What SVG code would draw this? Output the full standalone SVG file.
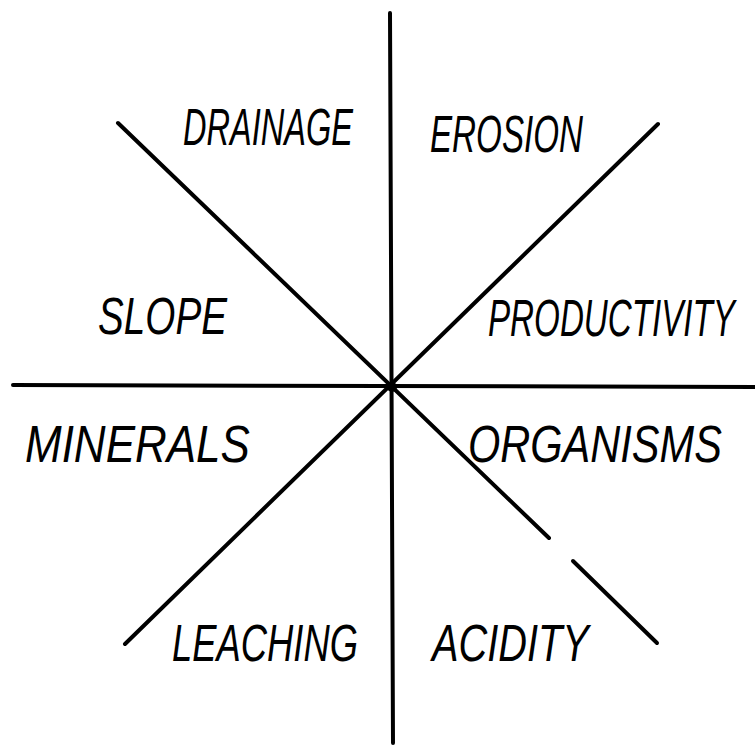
<svg xmlns="http://www.w3.org/2000/svg" width="755" height="747" viewBox="0 0 755 747">
  <style>
    .axis { stroke: #000; stroke-width: 4; stroke-linecap: round; fill: none; }
    .label { font-family: "Liberation Sans", Arial, sans-serif; font-style: italic; font-size: 52px; fill: #000; }
  </style>
  <rect width="755" height="747" fill="#fff"/>

  <!-- eight-way wheel of axes -->
  <g id="connectors">
    <line class="axis" x1="390" y1="13" x2="393" y2="743"/>
    <line class="axis" x1="13" y1="385" x2="755" y2="387"/>
    <line class="axis" x1="118" y1="123" x2="549" y2="538"/>
    <line class="axis" x1="573" y1="561" x2="657" y2="643"/>
    <line class="axis" x1="658" y1="124" x2="125" y2="644"/>
    <circle cx="392" cy="387" r="5" fill="#000"/>
  </g>

  <!-- sector labels, condensed horizontally to the lettering's width -->
  <g id="drainage"><text class="label" transform="translate(183,145) scale(0.626,1)">DRAINAGE</text></g>
  <g id="erosion"><text class="label" transform="translate(430,152) scale(0.638,1)">EROSION</text></g>
  <g id="slope"><text class="label" transform="translate(98,334) scale(0.744,1)">SLOPE</text></g>
  <g id="productivity"><text class="label" transform="translate(488,336) scale(0.638,1)">PRODUCTIVITY</text></g>
  <g id="minerals"><text class="label" transform="translate(25,462) scale(0.846,1)">MINERALS</text></g>
  <g id="organisms"><text class="label" transform="translate(468,462) scale(0.799,1)">ORGANISMS</text></g>
  <g id="leaching"><text class="label" transform="translate(172,661) scale(0.70,1)">LEACHING</text></g>
  <g id="acidity"><text class="label" transform="translate(432,661) scale(0.765,1)">ACIDITY</text></g>
</svg>
